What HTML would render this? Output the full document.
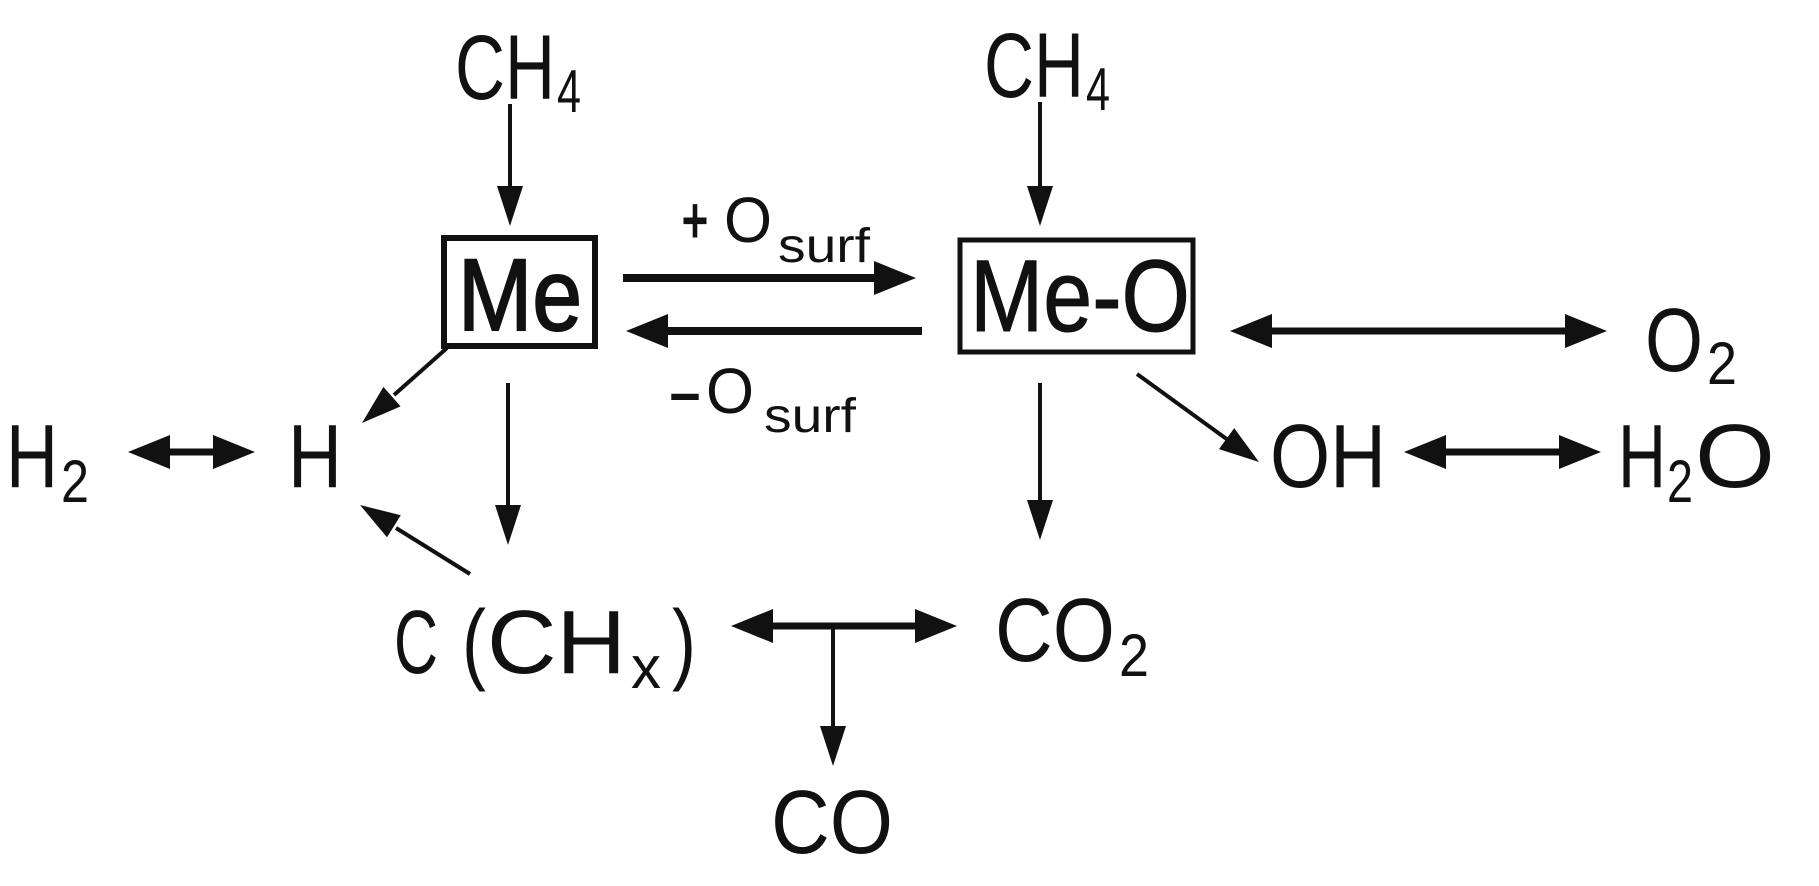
<!DOCTYPE html>
<html><head><meta charset="utf-8"><style>
html,body{margin:0;padding:0;background:#fff}
svg{display:block}
text{font-family:"Liberation Sans",Arial,sans-serif;fill:#111}
</style></head><body>
<svg width="1819" height="886" viewBox="0 0 1819 886" xmlns="http://www.w3.org/2000/svg">
<g stroke="#111" fill="none" stroke-width="4">
<line x1="510" y1="104" x2="510" y2="190"/>
<line x1="1040" y1="102" x2="1040" y2="190"/>
<line x1="508" y1="383" x2="508" y2="509"/>
<line x1="1040" y1="383" x2="1040" y2="504"/>
<line x1="833" y1="626" x2="833" y2="730"/>
<line x1="447" y1="348" x2="394" y2="395"/>
<line x1="470" y1="574" x2="396" y2="528"/>
<line x1="1137" y1="374" x2="1228" y2="440"/>
</g>
<g stroke="#111" fill="none" stroke-width="8">
<line x1="623" y1="278" x2="878" y2="278"/>
<line x1="922" y1="331" x2="664" y2="331"/>
</g>
<g stroke="#111" fill="none" stroke-width="7">
<line x1="1268" y1="331" x2="1569" y2="331"/>
<line x1="1442" y1="452" x2="1563" y2="452"/>
<line x1="166" y1="452" x2="217" y2="452"/>
<line x1="769" y1="626" x2="919" y2="626"/>
</g>
<g fill="#111">
<polygon points="510,226 497,186 523,186"/>
<polygon points="1040,226 1027,186 1053,186"/>
<polygon points="508,545 495,505 521,505"/>
<polygon points="1040,540 1027,500 1053,500"/>
<polygon points="833,766 820,726 846,726"/>
<polygon points="362,423 400.6,406.4 383.4,386.9"/>
<polygon points="360,505 400.8,515.3 387,537.3"/>
<polygon points="1259,462 1219,449.1 1234.2,428.1"/>
<polygon points="916,278 874,261 874,295"/>
<polygon points="626,331 668,314 668,348"/>
<polygon points="1230,331 1272,314 1272,348"/>
<polygon points="1607,331 1565,314 1565,348"/>
<polygon points="1404,452 1446,435 1446,469"/>
<polygon points="1601,452 1559,435 1559,469"/>
<polygon points="128,452 170,435 170,469"/>
<polygon points="255,452 213,435 213,469"/>
<polygon points="731,626 773,609 773,643"/>
<polygon points="957,626 915,609 915,643"/>
</g>
<g stroke="#111" fill="none">
<rect x="444" y="238" width="151" height="108" stroke-width="6"/>
<rect x="960" y="240" width="233" height="112" stroke-width="5"/>
</g>
<text x="455" y="99" font-size="92" textLength="100" lengthAdjust="spacingAndGlyphs">CH</text>
<text x="557" y="112" font-size="60" textLength="24" lengthAdjust="spacingAndGlyphs">4</text>
<text x="984" y="97" font-size="92" textLength="100" lengthAdjust="spacingAndGlyphs">CH</text>
<text x="1086" y="110" font-size="60" textLength="24" lengthAdjust="spacingAndGlyphs">4</text>
<text x="458" y="330" font-size="102" textLength="124" lengthAdjust="spacingAndGlyphs" stroke="#111" stroke-width="2">Me</text>
<text x="970" y="331" font-size="102" textLength="220" lengthAdjust="spacingAndGlyphs" stroke="#111" stroke-width="1">Me-O</text>
<text x="682" y="242" font-size="64" textLength="26" lengthAdjust="spacingAndGlyphs" stroke="#111" stroke-width="2">+</text>
<text x="724" y="242" font-size="64" textLength="48" lengthAdjust="spacingAndGlyphs">O</text>
<text x="778" y="262" font-size="48" textLength="92" lengthAdjust="spacingAndGlyphs">surf</text>
<text x="672" y="413" font-size="64" textLength="26" lengthAdjust="spacingAndGlyphs" stroke="#111" stroke-width="2">–</text>
<text x="706" y="413" font-size="64" textLength="48" lengthAdjust="spacingAndGlyphs">O</text>
<text x="764" y="432" font-size="48" textLength="92" lengthAdjust="spacingAndGlyphs">surf</text>
<text x="1645" y="371" font-size="90" textLength="58" lengthAdjust="spacingAndGlyphs">O</text>
<text x="1707" y="384" font-size="60" textLength="30" lengthAdjust="spacingAndGlyphs">2</text>
<text x="1270" y="487" font-size="90" textLength="116" lengthAdjust="spacingAndGlyphs">OH</text>
<text x="1618" y="487" font-size="90" textLength="48" lengthAdjust="spacingAndGlyphs">H</text>
<text x="1667" y="502" font-size="60" textLength="26" lengthAdjust="spacingAndGlyphs">2</text>
<text x="1695" y="487" font-size="90" textLength="80" lengthAdjust="spacingAndGlyphs">O</text>
<text x="288" y="487" font-size="90" textLength="54" lengthAdjust="spacingAndGlyphs">H</text>
<text x="6" y="487" font-size="90" textLength="52" lengthAdjust="spacingAndGlyphs">H</text>
<text x="61" y="502" font-size="60" textLength="28" lengthAdjust="spacingAndGlyphs">2</text>
<text x="394" y="673" font-size="90" textLength="44" lengthAdjust="spacingAndGlyphs">C</text>
<text x="462" y="673" font-size="90" textLength="24" lengthAdjust="spacingAndGlyphs">(</text>
<text x="487" y="673" font-size="90" textLength="139" lengthAdjust="spacingAndGlyphs">CH</text>
<text x="631" y="688" font-size="60" textLength="30" lengthAdjust="spacingAndGlyphs">x</text>
<text x="672" y="673" font-size="90" textLength="24" lengthAdjust="spacingAndGlyphs">)</text>
<text x="995" y="661" font-size="90" textLength="120" lengthAdjust="spacingAndGlyphs">CO</text>
<text x="1119" y="676" font-size="60" textLength="30" lengthAdjust="spacingAndGlyphs">2</text>
<text x="771" y="853" font-size="90" textLength="122" lengthAdjust="spacingAndGlyphs">CO</text>
</svg>
</body></html>
